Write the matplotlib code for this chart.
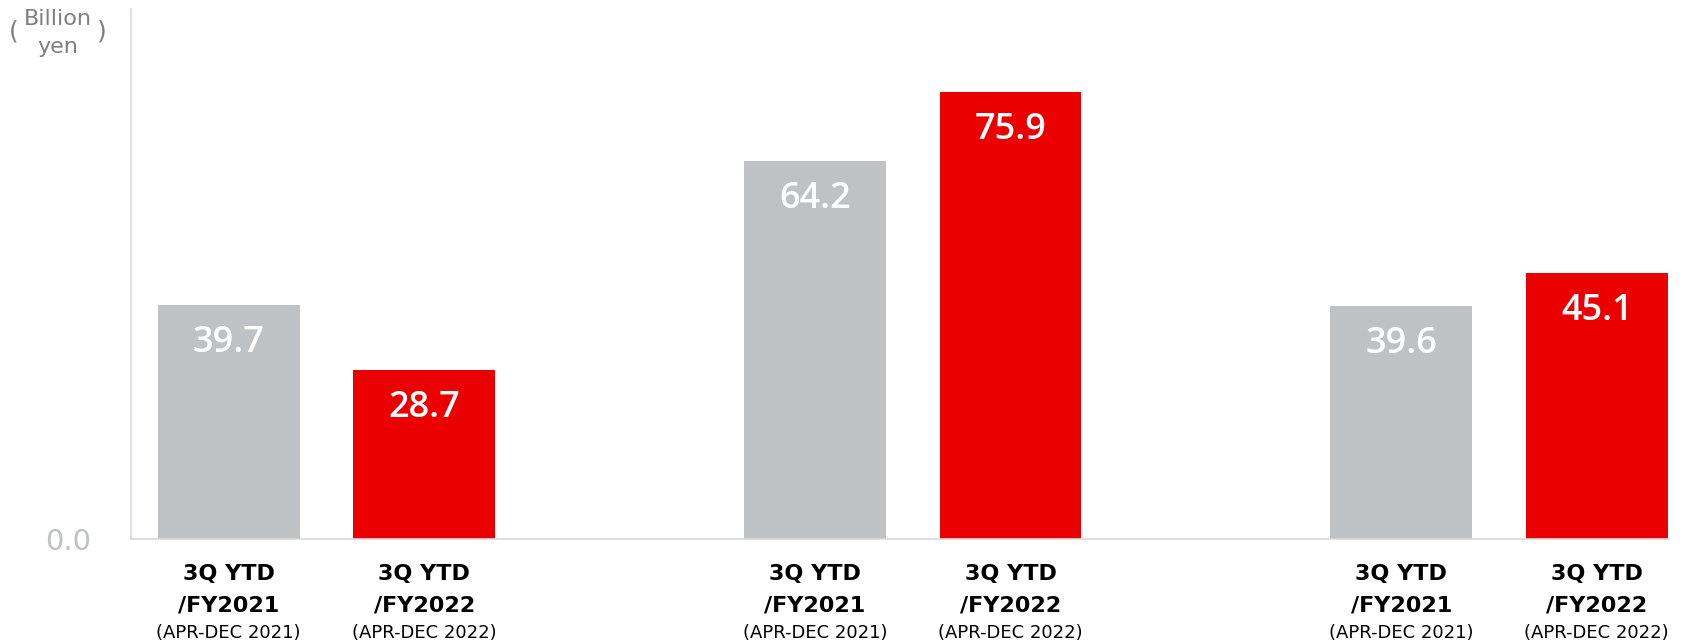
import matplotlib.pyplot as plt

positions = [0, 1, 3, 4, 6, 7]
values = [39.7, 28.7, 64.2, 75.9, 39.6, 45.1]
colors = ['#BFC2C5', '#EB0000'] * 3
line1 = ['3Q YTD'] * 6
line2 = ['/FY2021', '/FY2022'] * 3
line3 = ['(APR-DEC 2021)', '(APR-DEC 2022)'] * 3

fig = plt.figure(figsize=(16.88, 6.44), dpi=100)
ax = fig.add_axes([0.0776, 0.163, 0.9112, 0.8237])

bars = ax.bar(positions, values, width=0.726, color=colors)

ax.set_xlim(-0.5, 7.37)
ax.set_ylim(0, 90)
ax.set_yticks([0])
ax.set_yticklabels(['0.0'], fontsize=21, color='#BFC2C5')
ax.set_xticks([])
ax.tick_params(axis='y', length=0, pad=29)

for s in ['top', 'right']:
    ax.spines[s].set_visible(False)
for s in ['left', 'bottom']:
    ax.spines[s].set_color('#D9D9D9')
    ax.spines[s].set_linewidth(1.2)

# value labels inside the bars
for x, v in zip(positions, values):
    ax.annotate(f'{v:.1f}', xy=(x, v), xytext=(0, -27.5), textcoords='offset points',
                ha='center', va='center', color='white', fontsize=26,
                family='Open Sans', fontweight=600)

# category labels under the axis
for x, a, b, c in zip(positions, line1, line2, line3):
    ax.annotate(a, xy=(x, 0), xycoords=('data', 'axes fraction'), xytext=(0, -25.2),
                textcoords='offset points', ha='center', va='center',
                fontsize=16, fontweight='bold', color='black')
    ax.annotate(b, xy=(x, 0), xycoords=('data', 'axes fraction'), xytext=(0, -47.5),
                textcoords='offset points', ha='center', va='center',
                fontsize=16, fontweight='bold', color='black')
    ax.annotate(c, xy=(x, 0), xycoords=('data', 'axes fraction'), xytext=(0, -67.7),
                textcoords='offset points', ha='center', va='center',
                fontsize=13, color='black')

# unit label
fig.text(58 / 1688, 1 - 19 / 644, 'Billion', ha='center', va='center', fontsize=16, color='#7F7F7F')
fig.text(58 / 1688, 1 - 47 / 644, 'yen', ha='center', va='center', fontsize=16, color='#7F7F7F')
fig.text(14 / 1688, 1 - 31 / 644, '(', ha='center', va='center', fontsize=18, color='#7F7F7F')
fig.text(102 / 1688, 1 - 31 / 644, ')', ha='center', va='center', fontsize=18, color='#7F7F7F')

fig.savefig('out.png', dpi=100)
